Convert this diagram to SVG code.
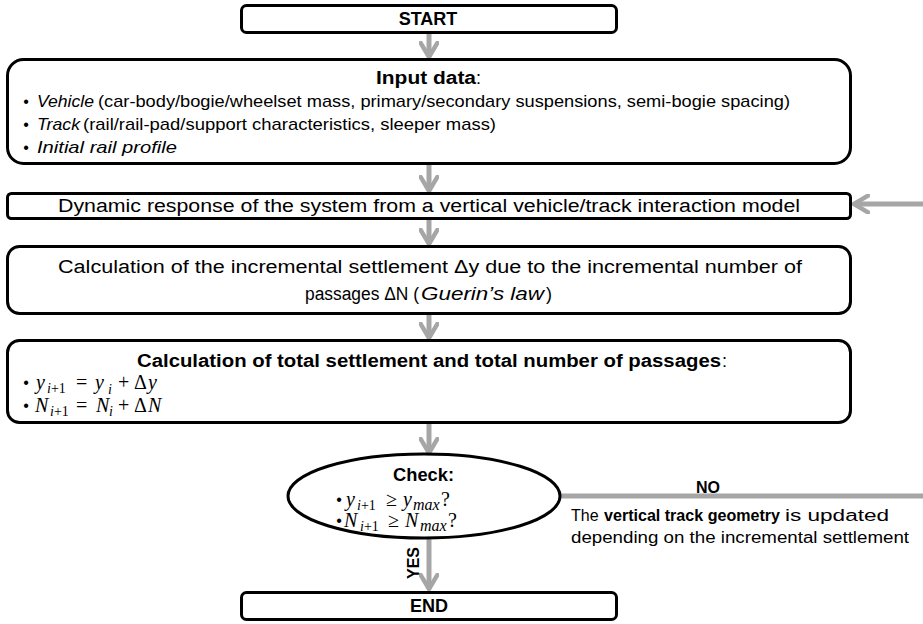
<svg xmlns="http://www.w3.org/2000/svg" width="923" height="624" viewBox="0 0 923 624">
  <style>
    .box { fill: #ffffff; stroke: #000000; stroke-width: 3; }
    .t { font-family: "Liberation Sans", Arial, sans-serif; font-size: 18px; fill: #000000; }
    .s16 { font-size: 16px; }
    .s17 { font-size: 17px; }
    .b { font-weight: bold; }
    .i { font-style: italic; }
    .m { font-family: "Liberation Serif", "Times New Roman", serif; font-style: italic; font-size: 20px; fill: #000000; }
    .mu { font-family: "Liberation Serif", "Times New Roman", serif; font-size: 20px; fill: #000000; }
    .ms { font-family: "Liberation Serif", "Times New Roman", serif; font-style: italic; font-size: 14px; fill: #000000; }
    .mx { font-size: 16px; }
    .bul { font-family: "Liberation Sans", Arial, sans-serif; font-size: 16px; fill: #000000; text-anchor: middle; }
    .conn { stroke: #a6a6a6; stroke-width: 5; fill: none; }
  </style>
  <defs>
    <marker id="head" viewBox="0 0 10 10" refX="8" refY="5" markerWidth="4" markerHeight="4" orient="auto" markerUnits="strokeWidth">
      <polyline points="1,0.8 8,5 1,9.2" fill="none" stroke="#a6a6a6" stroke-width="2.2" stroke-linecap="round" stroke-linejoin="round"/>
    </marker>
  </defs>

  <!-- connectors -->
  <g id="connectors">
    <line class="conn" x1="429" y1="33" x2="429" y2="57" marker-end="url(#head)"/>
    <line class="conn" x1="429" y1="165" x2="429" y2="191" marker-end="url(#head)"/>
    <line class="conn" x1="429" y1="220" x2="429" y2="244" marker-end="url(#head)"/>
    <line class="conn" x1="429" y1="315" x2="429" y2="338" marker-end="url(#head)"/>
    <line class="conn" x1="429" y1="424" x2="429" y2="453" marker-end="url(#head)"/>
    <line class="conn" x1="429" y1="539" x2="429" y2="589" marker-end="url(#head)"/>
    <line class="conn" x1="923" y1="204" x2="854" y2="204" marker-end="url(#head)"/>
    <line class="conn" x1="560" y1="496" x2="923" y2="496"/>
    <text class="t s16 b" x="708" y="493" text-anchor="middle">NO</text>
    <text class="t s16" x="571" y="521">The</text>
    <text class="t s16 b" x="604" y="521" textLength="176" lengthAdjust="spacingAndGlyphs">vertical track geometry</text>
    <text class="t s16" x="785" y="521" textLength="104" lengthAdjust="spacingAndGlyphs">is updated</text>
    <text class="t s16" x="571" y="543" textLength="338" lengthAdjust="spacingAndGlyphs">depending on the incremental settlement</text>
    <text class="t s16 b" x="0" y="0" text-anchor="middle" transform="translate(419 563) rotate(-90)">YES</text>
  </g>

  <!-- START -->
  <g id="start">
    <rect class="box" x="241.5" y="5.5" width="375" height="27" rx="5"/>
    <text class="t b" x="428" y="25" text-anchor="middle">START</text>
  </g>

  <!-- Input data -->
  <g id="input">
    <rect class="box" x="7.5" y="59.5" width="843" height="104" rx="16"/>
    <text class="t b" x="376" y="84" textLength="100" lengthAdjust="spacingAndGlyphs">Input data</text>
    <text class="t" x="476" y="84">:</text>
    <text class="bul" x="26" y="107">•</text>
    <text class="t s17 i" x="37" y="107" textLength="57" lengthAdjust="spacingAndGlyphs">Vehicle</text>
    <text class="t s17" x="98" y="107" textLength="692" lengthAdjust="spacingAndGlyphs">(car-body/bogie/wheelset mass, primary/secondary suspensions, semi-bogie spacing)</text>
    <text class="bul" x="26" y="130">•</text>
    <text class="t s17 i" x="37" y="130" textLength="43" lengthAdjust="spacingAndGlyphs">Track</text>
    <text class="t s17" x="83" y="130" textLength="413" lengthAdjust="spacingAndGlyphs">(rail/rail-pad/support characteristics, sleeper mass)</text>
    <text class="bul" x="26" y="153">•</text>
    <text class="t s17 i" x="37" y="153" textLength="140" lengthAdjust="spacingAndGlyphs">Initial rail  profile</text>
  </g>

  <!-- Dynamic response -->
  <g id="dynamic">
    <rect class="box" x="7.5" y="193.5" width="843" height="25" rx="4"/>
    <text class="t" x="58" y="212" textLength="742" lengthAdjust="spacingAndGlyphs">Dynamic response of the system from a vertical vehicle/track interaction model</text>
  </g>

  <!-- Incremental settlement -->
  <g id="incremental">
    <rect class="box" x="7.5" y="246.5" width="843" height="67" rx="12"/>
    <text class="t" x="58" y="273" textLength="744" lengthAdjust="spacingAndGlyphs">Calculation of the incremental settlement  Δy due to the incremental number of</text>
    <text class="t" x="305" y="300" textLength="114" lengthAdjust="spacingAndGlyphs">passages ΔN (</text>
    <text class="t i" x="421" y="300" textLength="123" lengthAdjust="spacingAndGlyphs">Guerin’s law</text>
    <text class="t" x="546" y="300">)</text>
  </g>

  <!-- Total settlement -->
  <g id="total">
    <rect class="box" x="7.5" y="340.5" width="843" height="82" rx="12"/>
    <text class="t b" x="137" y="367" textLength="584" lengthAdjust="spacingAndGlyphs">Calculation of total settlement and total number of passages</text>
    <text class="t" x="722" y="367">:</text>
    <!-- y_{i+1} = y_i + Δy -->
    <text class="bul" x="26" y="388">•</text>
    <text class="m" x="36" y="389">y</text>
    <text class="ms" x="47" y="393">i<tspan font-style="normal">+1</tspan></text>
    <text class="mu" x="76" y="389">=</text>
    <text class="m" x="95" y="389">y</text>
    <text class="ms" x="108" y="394">i</text>
    <text class="mu" x="118" y="389">+</text>
    <text class="mu" x="134" y="389">Δ</text>
    <text class="m" x="148" y="389">y</text>
    <!-- N_{i+1} = N_i + ΔN -->
    <text class="bul" x="26" y="411">•</text>
    <text class="m" x="35" y="412">N</text>
    <text class="ms" x="50" y="416">i<tspan font-style="normal">+1</tspan></text>
    <text class="mu" x="76" y="412">=</text>
    <text class="m" x="96" y="412">N</text>
    <text class="ms" x="109" y="416">i</text>
    <text class="mu" x="118" y="412">+</text>
    <text class="mu" x="134" y="412">Δ</text>
    <text class="m" x="148" y="412">N</text>
  </g>

  <!-- Check -->
  <g id="check">
    <ellipse class="box" cx="424" cy="496" rx="136" ry="42"/>
    <text class="t b" x="393" y="481" textLength="61" lengthAdjust="spacingAndGlyphs">Check:</text>
    <!-- y_{i+1} ≥ y_max? -->
    <text class="bul" x="339" y="505">•</text>
    <text class="m" x="346" y="506">y</text>
    <text class="ms" x="357" y="510">i<tspan font-style="normal">+1</tspan></text>
    <text class="mu" x="386" y="506">≥</text>
    <text class="m" x="403" y="506">y</text>
    <text class="ms mx" x="413" y="510">max</text>
    <text class="mu" x="441" y="506">?</text>
    <!-- N_{i+1} ≥ N_max? -->
    <text class="bul" x="339" y="526">•</text>
    <text class="m" x="344" y="527">N</text>
    <text class="ms" x="360" y="531">i<tspan font-style="normal">+1</tspan></text>
    <text class="mu" x="388" y="527">≥</text>
    <text class="m" x="405" y="527">N</text>
    <text class="ms mx" x="420" y="531">max</text>
    <text class="mu" x="448" y="527">?</text>
  </g>

  <!-- END -->
  <g id="end">
    <rect class="box" x="241.5" y="592.5" width="375" height="27" rx="5"/>
    <text class="t b" x="429" y="612" text-anchor="middle">END</text>
  </g>
</svg>
